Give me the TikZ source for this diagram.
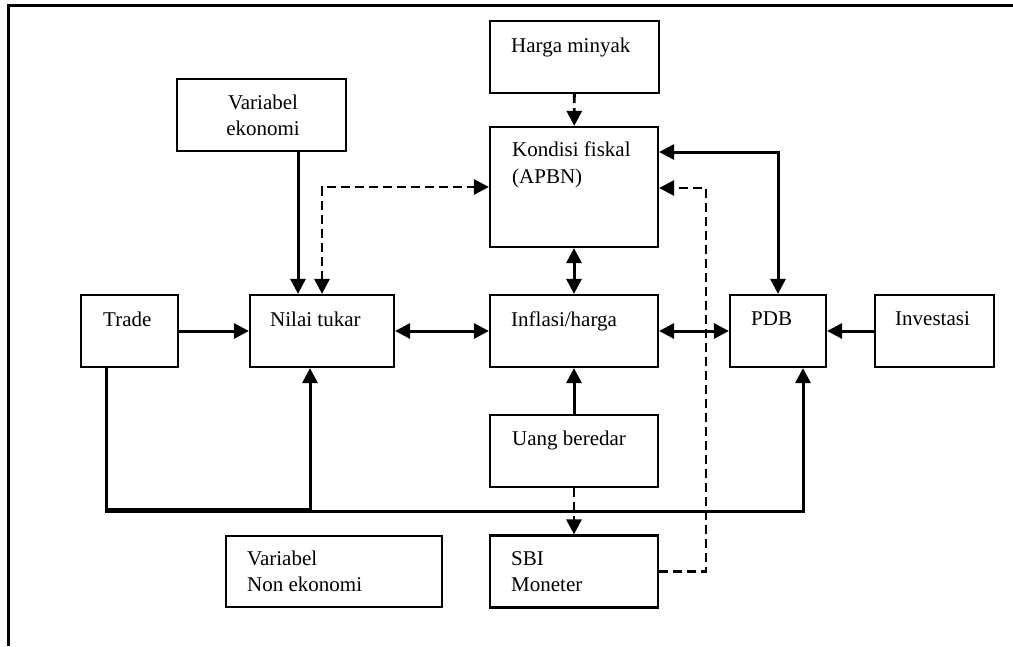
\documentclass[tikz,border=0pt]{standalone}
\usepackage{fontspec}
\setmainfont{Liberation Serif}
\usetikzlibrary{arrows.meta}
\begin{document}
\begin{tikzpicture}[x=1pt,y=-1pt,
  box/.style={draw, line width=2.2pt, inner sep=0pt, minimum width=#1},
  box/.default=100pt,
  txt/.style={anchor=base west, inner sep=0pt, font=\fontsize{21}{27}\selectfont},
  ctxt/.style={anchor=base, inner sep=0pt, font=\fontsize{21}{27}\selectfont},
  ln/.style={line width=3pt},
  dsh/.style={line width=2.8pt, dash pattern=on 9pt off 5pt},
  tip/.tip={Triangle[length=15pt,width=15pt]},
  ]
\useasboundingbox (0,0) rectangle (1013,646);
% outer frame
\draw[line width=3pt] (8,646) -- (8,5.5) -- (1013,5.5);
% boxes
\node[box=169pt, minimum height=72pt] (harga)   at (574.5,57) {};
\node[box=169pt, minimum height=72pt] (varek)   at (261.5,115) {};
\node[box=168pt, minimum height=120pt] (kondisi) at (574,187) {};
\node[box=97pt,  minimum height=72pt] (trade)   at (129.5,331) {};
\node[box=144pt, minimum height=72pt] (nilai)   at (322,331) {};
\node[box=168pt, minimum height=72pt] (inflasi) at (574,331) {};
\node[box=96pt,  minimum height=72pt] (pdb)     at (778,331) {};
\node[box=119pt, minimum height=72pt] (invest)  at (934.5,331) {};
\node[box=168pt, minimum height=72pt] (uang)    at (574,451) {};
\node[box=168pt, minimum height=72pt] (sbi)     at (574,571.5) {};
\node[box=216pt, minimum height=71pt] (varnon)  at (334,571.5) {};
% texts
\node[txt]  (t-harga)  at (511,52)  {Harga minyak};
\node[ctxt] (t-varek1) at (263,109) {Variabel};
\node[ctxt] (t-varek2) at (263,135) {ekonomi};
\node[txt]  (t-kond1)  at (512,156) {Kondisi fiskal};
\node[txt]  (t-kond2)  at (512,183) {(APBN)};
\node[txt]  (t-trade)  at (103,326) {Trade};
\node[txt]  (t-nilai)  at (270,326) {Nilai tukar};
\node[txt]  (t-infl)   at (511,326) {Inflasi/harga};
\node[txt]  (t-pdb)    at (751,325) {PDB};
\node[txt]  (t-inv)    at (895,325) {Investasi};
\node[txt]  (t-uang)   at (512,445) {Uang beredar};
\node[txt]  (t-sbi1)   at (511,565) {SBI};
\node[txt]  (t-sbi2)   at (511,591) {Moneter};
\node[txt]  (t-non1)   at (247,565) {Variabel};
\node[txt]  (t-non2)   at (247,591) {Non ekonomi};
% helper coordinates
\coordinate (cv) at (298,0);
\coordinate (rk) at (0,152);
\coordinate (k2) at (706,188);
\coordinate (tb) at (106,0);
\coordinate (b1) at (310,509);
\coordinate (b2) at (803,511);
% connectors
\draw[dsh,-tip] (harga) -- (kondisi);
\draw[ln,-tip] (varek.south -| cv) -- (nilai.north -| cv);
\draw[dsh,tip-tip] (nilai.north) |- (kondisi.west);
\draw[ln,tip-tip] (kondisi) -- (inflasi);
\draw[ln,tip-tip] (kondisi.east |- rk) -| (pdb.north);
\draw[dsh,-tip] (sbi.east) -| (k2) -- (kondisi.east |- k2);
\draw[ln,-tip] (trade) -- (nilai);
\draw[ln,tip-tip] (nilai) -- (inflasi);
\draw[ln,tip-tip] (inflasi) -- (pdb);
\draw[ln,-tip] (invest) -- (pdb);
\draw[ln,-tip] (uang) -- (inflasi);
\draw[dsh,-tip] (uang) -- (sbi);
\draw[ln,-tip] (trade.south -| tb) |- (b1) -- (nilai.south -| b1);
\draw[ln,-tip] (trade.south -| tb) |- (b2) -- (pdb.south -| b2);
\end{tikzpicture}
\end{document}
